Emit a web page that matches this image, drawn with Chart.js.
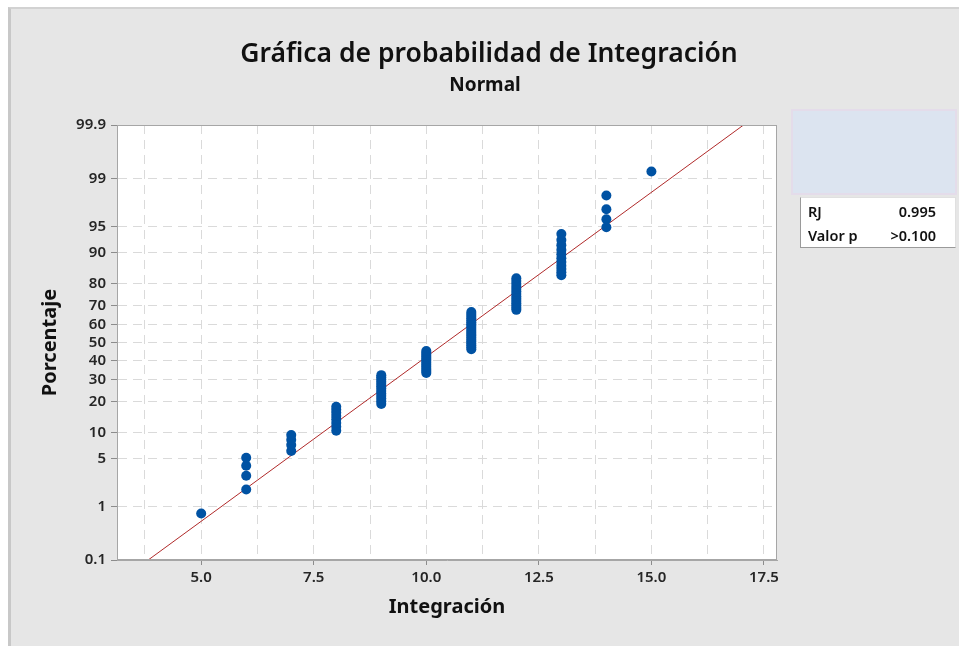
<!DOCTYPE html>
<html>
<head>
<meta charset="utf-8">
<script src="https://cdn.jsdelivr.net/npm/chart.js@4.4.1/dist/chart.umd.min.js"></script>
<style>
  html, body { margin:0; padding:0; background:#ffffff; }
  #wrap { position:absolute; left:0; top:0; width:959px; height:646px; overflow:hidden; background:#fff; }
  #frame { position:absolute; left:8px; top:7px; right:0; bottom:0; background:#e6e6e6;
           border-left:3px solid #c8c8c8; border-top:2px solid #d2d2d2; }
  #c { position:absolute; left:0; top:0; }
  .t { position:absolute; white-space:nowrap; font-family:"Noto Sans", "Open Sans", sans-serif; color:#111; }
  #title { left:489px; top:52px; transform:translate(-50%,-50%); font-size:26.5px; font-weight:600; }
  #subtitle { left:485px; top:84px; transform:translate(-50%,-50%); font-size:19px; font-weight:700; }
  #leg1 { position:absolute; left:791px; top:109px; width:162px; height:82px; background:#dce4f0; border:2px solid #e4dcea; }
  #leg2 { position:absolute; left:800px; top:197px; width:154px; height:49px; background:#fff;
          border-left:1px solid #9a9a9a; border-bottom:1px solid #9a9a9a; border-top:1px solid #e0e0e0; border-right:1px solid #e0e0e0; }
  .lt { position:absolute; font-family:"Noto Sans", "Open Sans", sans-serif; font-size:14.5px; font-weight:600; color:#111; transform:translateY(-50%); white-space:nowrap; }
</style>
</head>
<body>
<div id="wrap">
  <div id="frame"></div>
  <canvas id="c" width="959" height="646"></canvas>
  <div class="t" id="title">Gráfica de probabilidad de Integración</div>
  <div class="t" id="subtitle">Normal</div>
  <div id="leg1"></div>
  <div id="leg2"></div>
  <div class="lt" style="left:808px; top:211px;">RJ</div>
  <div class="lt" style="right:23px; top:211px;">0.995</div>
  <div class="lt" style="left:808px; top:235px;">Valor p</div>
  <div class="lt" style="right:23px; top:235px;">&gt;0.100</div>
</div>
<script>
// ---- Data ----
const xValues = [5, 6, 7, 8, 9, 10, 11, 12, 13, 14, 15];        // Integración values
const counts  = [1, 4, 4, 8, 13, 12, 20, 14, 11, 4, 1];          // number of observations at each value
const yTickPercents = [0.1, 1, 5, 10, 20, 30, 40, 50, 60, 70, 80, 90, 95, 99, 99.9];
const yTickLabels   = ["0.1","1","5","10","20","30","40","50","60","70","80","90","95","99","99.9"];
const xTickValues   = [3.75, 5, 6.25, 7.5, 8.75, 10, 11.25, 12.5, 13.75, 15, 16.25, 17.5];
const xLabelEvery   = 2.5;
const xMin = 3.13, xMax = 17.79;

// inverse standard normal CDF (Acklam)
function normInv(p){
  const a=[-3.969683028665376e+01,2.209460984245205e+02,-2.759285104469687e+02,1.383577518672690e+02,-3.066479806614716e+01,2.506628277459239e+00];
  const b=[-5.447609879822406e+01,1.615858368580409e+02,-1.556989798598866e+02,6.680131188771972e+01,-1.328068155288572e+01];
  const c=[-7.784894002430293e-03,-3.223964580411365e-01,-2.400758277161838e+00,-2.549671039007334e+00,4.374664141464968e+00,2.938163982698783e+00];
  const d=[7.784695709041462e-03,3.224671290700398e-01,2.445134137142996e+00,3.754408661907416e+00];
  const pl=0.02425, ph=1-pl; let q,r;
  if(p<pl){q=Math.sqrt(-2*Math.log(p));return (((((c[0]*q+c[1])*q+c[2])*q+c[3])*q+c[4])*q+c[5])/((((d[0]*q+d[1])*q+d[2])*q+d[3])*q+1);}
  if(p<=ph){q=p-0.5;r=q*q;return (((((a[0]*r+a[1])*r+a[2])*r+a[3])*r+a[4])*r+a[5])*q/(((((b[0]*r+b[1])*r+b[2])*r+b[3])*r+b[4])*r+1);}
  q=Math.sqrt(-2*Math.log(1-p));return -(((((c[0]*q+c[1])*q+c[2])*q+c[3])*q+c[4])*q+c[5])/((((d[0]*q+d[1])*q+d[2])*q+d[3])*q+1);
}

// median-rank plotting positions (i-0.3)/(n+0.4)
const n = counts.reduce((s,v)=>s+v,0);
const points = [];
let rank = 0, sum = 0;
xValues.forEach((x,k)=>{ for(let j=0;j<counts[k];j++){ rank++; sum += x;
  points.push({x:x, y:normInv((rank-0.3)/(n+0.4))}); } });
const mean = sum/n;
let ss = 0; xValues.forEach((x,k)=>{ ss += counts[k]*(x-mean)*(x-mean); });
const sd = Math.sqrt(ss/(n-1));
const zMin = normInv(yTickPercents[0]/100), zMax = normInv(yTickPercents[yTickPercents.length-1]/100);
const fitLine = [{x: mean + sd*zMin, y: zMin}, {x: mean + sd*zMax, y: zMax}];

const boxPlugin = {
  id:'box',
  beforeDraw(chart){
    const {ctx, chartArea:a} = chart;
    ctx.save(); ctx.fillStyle='#ffffff'; ctx.fillRect(a.left,a.top,a.right-a.left,a.bottom-a.top); ctx.restore();
  },
  afterDraw(chart){
    const {ctx, chartArea:a} = chart;
    ctx.save(); ctx.strokeStyle='#a6a6a6'; ctx.lineWidth=1;
    ctx.strokeRect(a.left+0.5,a.top+0.5,a.right-a.left-1,a.bottom-a.top-1); ctx.restore();
  }
};

const tickFont = {family:'"Noto Sans", "Open Sans", sans-serif', size:15, weight:'600'};
const titleFont = {family:'"Noto Sans", "Open Sans", sans-serif', size:20, weight:'bold'};

new Chart(document.getElementById('c'), {
  data: {
    datasets: [
      { type:'line', data: fitLine, borderColor:'#b02a2a', borderWidth:1, pointRadius:0, fill:false, order:2 },
      { type:'scatter', data: points, backgroundColor:'#0052a3', borderColor:'#0052a3', pointRadius:5, pointBorderWidth:0, order:1 }
    ]
  },
  options: {
    responsive:false, animation:false, devicePixelRatio:1,
    layout:{ padding:{ top:125, right:182, left:0, bottom:0 } },
    plugins:{ legend:{display:false}, tooltip:{enabled:false} },
    scales:{
      x:{
        type:'linear', min:xMin, max:xMax,
        afterFit(s){ s.height = 86; },
        afterBuildTicks(s){ s.ticks = xTickValues.map(v=>({value:v})); },
        ticks:{ autoSkip:false, maxRotation:0, padding:4, color:'#262626', font:tickFont,
          callback(v){ return (Math.abs(v/xLabelEvery - Math.round(v/xLabelEvery))<1e-9) ? v.toFixed(1) : ''; } },
        grid:{ color:'#dadada', lineWidth:1, tickLength:5,
          tickColor(ctx){ const v = ctx.tick ? ctx.tick.value : 0; return (Math.abs(v/xLabelEvery - Math.round(v/xLabelEvery))<1e-9) ? '#8c8c8c' : 'rgba(0,0,0,0)'; } },
        border:{ display:true, color:'#a6a6a6', width:1, dash:[9,6] },
        title:{ display:true, text:'Integración', color:'#111', font:titleFont, padding:{top:4, bottom:27} }
      },
      y:{
        type:'linear', min:zMin, max:zMax,
        afterFit(s){ s.width = 117; },
        afterBuildTicks(s){ s.ticks = yTickPercents.map(p=>({value:normInv(p/100)})); },
        ticks:{ autoSkip:false, padding:5, color:'#262626', font:tickFont,
          callback(v, i){ return yTickLabels[i]; } },
        grid:{ color:'#dadada', lineWidth:1, tickLength:6, tickColor:'#8c8c8c' },
        border:{ display:true, color:'#a6a6a6', width:1, dash:[9,6] },
        title:{ display:true, text:'Porcentaje', color:'#111', font:titleFont, padding:{top:38, bottom:4} }
      }
    }
  },
  plugins:[boxPlugin]
});
</script>
</body>
</html>
